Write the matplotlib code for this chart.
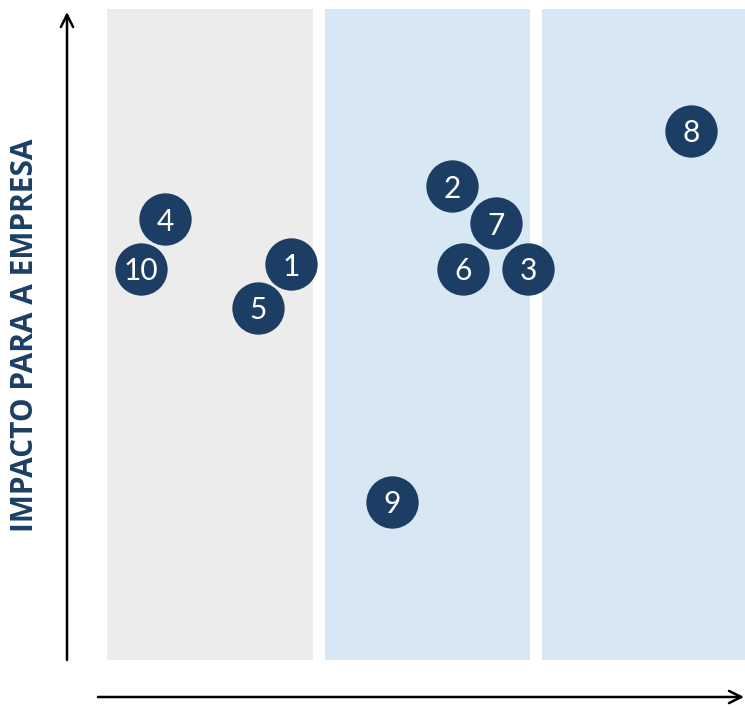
import matplotlib
matplotlib.use("Agg")
import matplotlib.pyplot as plt
from matplotlib.patches import Rectangle, FancyArrowPatch

# Issue ids with their position on the matrix
labels = ["1", "2", "3", "4", "5", "6", "7", "8", "9", "10"]
x_vals = [0.846, 1.586, 1.936, 0.267, 0.694, 1.637, 1.789, 2.685, 1.310, 0.156]
y_vals = [6.08, 7.28, 6.01, 6.77, 5.41, 6.01, 6.71, 8.13, 2.43, 6.01]

# Column bands (start, colour)
band_starts = [0, 1, 2]
band_colors = ["#ececec", "#d7e7f4", "#d7e7f4"]
band_width = 0.947

y_title = "IMPACTO PARA A EMPRESA"
navy = "#1d3e64"

W, H = 745, 707
fig = plt.figure(figsize=(W / 100, H / 100), dpi=100)

ax_left, ax_bottom = 107 / W, 47 / H
ax = fig.add_axes([ax_left, ax_bottom, 652.5 / W, 651 / H])
ax.set_xlim(0, 3)
ax.set_ylim(0, 10)
ax.axis("off")

for s, c in zip(band_starts, band_colors):
    ax.add_patch(Rectangle((s, 0), band_width, 10, facecolor=c, edgecolor="none", zorder=0))

ax.scatter(x_vals, y_vals, s=1420, color=navy, zorder=3, linewidths=0, clip_on=False)
for lx, ly, t in zip(x_vals, y_vals, labels):
    ax.text(lx, ly, t, color="white", fontsize=21.5, ha="center", va="center_baseline",
            family="Lato", fontweight="normal", zorder=4)

# Axis arrows
arrow = dict(arrowstyle="->", lw=1.8, color="black", mutation_scale=22,
             shrinkA=0, shrinkB=0)
fig.add_artist(FancyArrowPatch((67 / W, 47 / H), (67 / W, 695 / H),
                               transform=fig.transFigure, **arrow))
fig.add_artist(FancyArrowPatch((98 / W, 10 / H), (744 / W, 10 / H),
                               transform=fig.transFigure, **arrow))

fig.text(25 / W, 1 - 335 / H, y_title, rotation=90, ha="center", va="center",
         color=navy, fontsize=21.5, fontweight="bold", family="Open Sans")

fig.savefig("out.png", dpi=100)
